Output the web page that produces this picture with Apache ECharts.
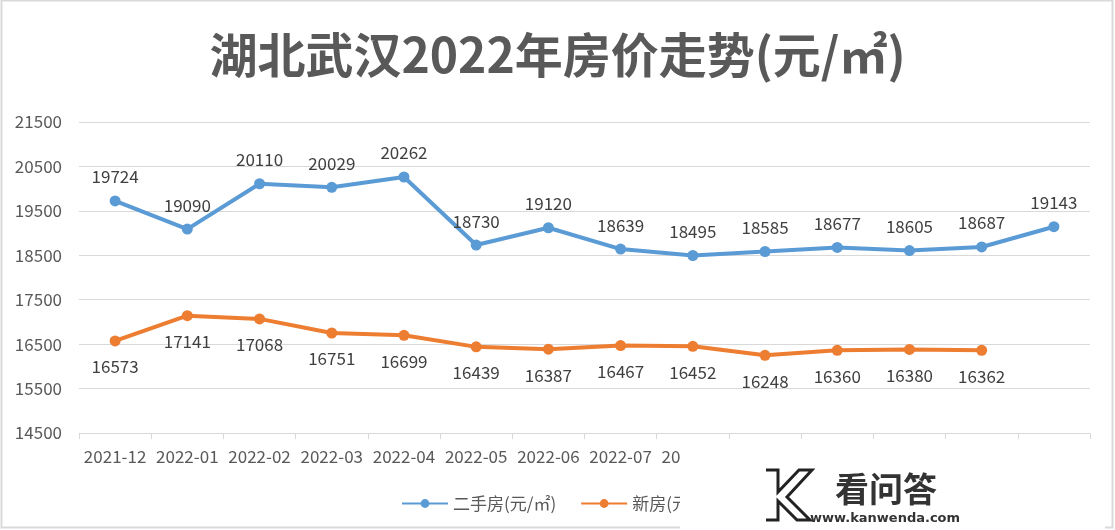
<!DOCTYPE html>
<html>
<head>
<meta charset="utf-8">
<script src="https://cdn.jsdelivr.net/npm/echarts@6/dist/echarts.min.js"></script>
<style>
html,body{margin:0;padding:0;background:#fff;}
#c{width:1115px;height:530px;}
</style>
</head>
<body>
<div id="c"></div>
<script>
const categories = ['2021-12','2022-01','2022-02','2022-03','2022-04','2022-05','2022-06','2022-07','2022-08','2022-09','2022-10','2022-11','2022-12','2023-01'];
const secondHand = [19724,19090,20110,20029,20262,18730,19120,18639,18495,18585,18677,18605,18687,19143];
const newHouse = [16573,17141,17068,16751,16699,16439,16387,16467,16452,16248,16360,16380,16362];
const yTicks = {min:14500, max:21500, interval:1000};

const FONT = '"Noto Sans CJK SC","Noto Sans",sans-serif';
const chart = echarts.init(document.getElementById('c'));
chart.setOption({
  animation:false,
  backgroundColor:'#fff',
  title:{
    text:'湖北武汉2022年房价走势(元/㎡)',
    left:'center', top:26,
    textStyle:{fontFamily:FONT, fontSize:48, fontWeight:'bold', color:'#595959'}
  },
  legend:{
    top:490, left:396,
    itemWidth:46, itemHeight:11, itemGap:24,
    textStyle:{fontFamily:FONT, fontSize:17, color:'#595959'},
    data:['二手房(元/㎡)','新房(元/㎡)']
  },
  grid:{left:79, right:25, top:122, bottom:97},
  xAxis:{
    type:'category', data:categories, boundaryGap:true,
    axisLine:{lineStyle:{color:'#d9d9d9', width:1}},
    axisTick:{show:true, length:6, lineStyle:{color:'#d9d9d9'}},
    axisLabel:{fontFamily:FONT, fontSize:17, color:'#595959', margin:15, interval:0}
  },
  yAxis:{
    type:'value', min:yTicks.min, max:yTicks.max, interval:yTicks.interval,
    axisLine:{show:false}, axisTick:{show:false},
    splitLine:{lineStyle:{color:'#d9d9d9', width:1}},
    axisLabel:{fontFamily:FONT, fontSize:17, color:'#595959', margin:17, formatter:function(v){return String(v);}}
  },
  series:[
    {name:'二手房(元/㎡)', type:'line', data:secondHand,
     symbol:'circle', symbolSize:11, color:'#5B9BD5',
     lineStyle:{width:4, color:'#5B9BD5'},
     label:{show:true, position:'top', distance:10, fontFamily:FONT, fontSize:17, color:'#404040'}},
    {name:'新房(元/㎡)', type:'line', data:newHouse,
     symbol:'circle', symbolSize:11, color:'#ED7D31',
     lineStyle:{width:4, color:'#ED7D31'},
     label:{show:true, position:'bottom', distance:12, fontFamily:FONT, fontSize:17, color:'#404040'}}
  ],
  graphic:[
    {type:'rect', shape:{x:1.5, y:0.5, width:1111, height:527}, style:{fill:'none', stroke:'#d9d9d9', lineWidth:2}, z:100},
    {type:'rect', shape:{x:680, y:446, width:425, height:84}, style:{fill:'#ffffff'}, z:101},
    {type:'polyline', shape:{points:[[766,470],[778,470],[778,492],[799,470],[812,470],[787,497],[810,520],[797,520],[778,501],[778,520],[766,520]]}, style:{fill:'#fff', stroke:'#222', lineWidth:3}, z:102},
    {type:'text', x:835, y:472, style:{text:'看问答', fontFamily:FONT, fontSize:34, fontWeight:'bold', fill:'#333'}, z:102},
    {type:'text', x:810, y:512, style:{text:'www.kanwenda.com', fontFamily:'"DejaVu Sans",sans-serif', fontSize:13, fontWeight:'bold', fill:'#333'}, z:102}
  ]
});
</script>
</body>
</html>
